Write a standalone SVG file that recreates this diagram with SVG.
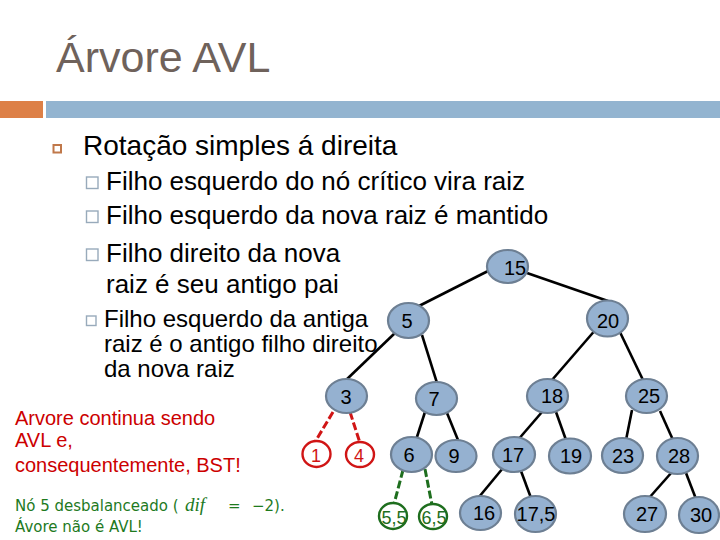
<svg xmlns="http://www.w3.org/2000/svg" width="720" height="540" viewBox="0 0 720 540">
<style>
.t{font-family:"Liberation Sans",Arial,sans-serif;fill:#000}
.title{font-family:"Liberation Sans",Arial,sans-serif;font-size:43px;fill:#6f625b}
.l1{font-size:28px}
.l2{font-size:26px}
.l3{font-size:24px}
.red{font-family:"Liberation Sans",Arial,sans-serif;font-size:20px;fill:#cc0000}
.grn{font-family:"DejaVu Sans",sans-serif;font-size:15px;fill:#1e7a1e}
.math{font-family:"Liberation Serif",serif;font-style:italic;font-size:19px}
.node ellipse{fill:#95b1d0;stroke:#6d7f93;stroke-width:2.2}
.node text{font-family:"Liberation Sans",Arial,sans-serif;font-size:20px;fill:#000;text-anchor:middle}
.rnode ellipse{fill:#fff;stroke:#d01515;stroke-width:2.4}
.rnode text{font-family:"Liberation Sans",Arial,sans-serif;font-size:18px;fill:#d01515;text-anchor:middle}
.gnode ellipse{fill:#fff;stroke:#1e6e1e;stroke-width:2.4}
.gnode text{font-family:"Liberation Sans",Arial,sans-serif;font-size:18px;fill:#1e6e1e;text-anchor:middle}
.e{stroke:#000;stroke-width:2.6;fill:none}
.er{stroke:#d01515;stroke-width:3;stroke-dasharray:8 3;fill:none}
.eg{stroke:#1e6e1e;stroke-width:3;stroke-dasharray:8 3;fill:none}
.b2{fill:none;stroke:#98aabb;stroke-width:1.4}
</style>
<rect width="720" height="540" fill="#fff"/>
<text class="title" x="56" y="72">Árvore AVL</text>
<rect x="0" y="101" width="43" height="17" fill="#dd8047"/>
<rect x="46" y="101" width="674" height="17" fill="#93b4d0"/>
<g id="bullets">
<rect x="53.5" y="145" width="7.5" height="7.5" fill="none" stroke="#c0784a" stroke-width="2"/>
<text class="t l1" x="83" y="155">Rotação simples á direita</text>
<rect class="b2" x="86.5" y="177" width="11.5" height="11.5"/>
<text class="t l2" x="106" y="190">Filho esquerdo do nó crítico vira raiz</text>
<rect class="b2" x="86.5" y="211" width="11.5" height="11.5"/>
<text class="t l2" x="106" y="224">Filho esquerdo da nova raiz é mantido</text>
<rect class="b2" x="86.5" y="249" width="11.5" height="11.5"/>
<text class="t l2" x="106" y="262">Filho direito da nova</text>
<text class="t l2" x="106" y="293">raiz é seu antigo pai</text>
<rect class="b2" x="86.5" y="316" width="9.5" height="9.5"/>
<text class="t l3" x="104" y="327">Filho esquerdo da antiga</text>
<text class="t l3" x="104" y="352">raiz é o antigo filho direito</text>
<text class="t l3" x="104" y="377">da nova raiz</text>
</g>
<g id="notes">
<text class="red" x="15" y="425">Arvore continua sendo</text>
<text class="red" x="15" y="447">AVL e,</text>
<text class="red" x="15" y="472">consequentemente, BST!</text>
<text class="grn" x="15" y="511">Nó 5 desbalanceado (<tspan class="math" x="185">dif</tspan><tspan x="228">=</tspan><tspan x="252">−2).</tspan></text>
<text class="grn" x="15" y="532">Ávore não é AVL!</text>
</g>
<g id="connectors">
<line class="e" x1="490" y1="270" x2="417" y2="307"/>
<line class="e" x1="527" y1="273" x2="608" y2="301"/>
<line class="e" x1="395" y1="333" x2="345" y2="381"/>
<line class="e" x1="422" y1="335" x2="437" y2="383"/>
<line class="e" x1="597" y1="328" x2="552" y2="380"/>
<line class="e" x1="618" y1="328" x2="643" y2="380"/>
<line class="er" x1="333" y1="412" x2="315" y2="442"/>
<line class="er" x1="350" y1="412" x2="360" y2="443"/>
<line class="e" x1="425" y1="412" x2="416" y2="440"/>
<line class="e" x1="447" y1="413" x2="458" y2="440"/>
<line class="eg" x1="403" y1="470" x2="394" y2="504"/>
<line class="eg" x1="425" y1="469" x2="432" y2="505"/>
<line class="e" x1="542" y1="412" x2="517" y2="441"/>
<line class="e" x1="556" y1="412" x2="566" y2="440"/>
<line class="e" x1="632" y1="410" x2="626" y2="440"/>
<line class="e" x1="660" y1="411" x2="673" y2="440"/>
<line class="e" x1="503" y1="468" x2="479" y2="497"/>
<line class="e" x1="521" y1="471" x2="531" y2="498"/>
<line class="e" x1="672" y1="472" x2="649" y2="498"/>
<line class="e" x1="686" y1="473" x2="696" y2="499"/>
</g>
<g id="n15" class="node"><ellipse cx="507.5" cy="266.5" rx="20.5" ry="16.5"/><text x="515" y="275">15</text></g>
<g id="n5" class="node"><ellipse cx="408.5" cy="320.5" rx="20.5" ry="17.5"/><text x="407" y="328">5</text></g>
<g id="n20" class="node"><ellipse cx="607.5" cy="318.5" rx="20.5" ry="18"/><text x="608" y="328">20</text></g>
<g id="n3" class="node"><ellipse cx="346.5" cy="396" rx="20.5" ry="17"/><text x="346" y="404">3</text></g>
<g id="n7" class="node"><ellipse cx="436.5" cy="398.5" rx="20.5" ry="16.5"/><text x="434" y="406">7</text></g>
<g id="n18" class="node"><ellipse cx="547.5" cy="396" rx="20.5" ry="17"/><text x="552" y="403">18</text></g>
<g id="n25" class="node"><ellipse cx="646.5" cy="396" rx="20.5" ry="17"/><text x="649" y="403">25</text></g>
<g id="n1" class="rnode"><ellipse cx="316.5" cy="454" rx="14" ry="13"/><text x="316" y="462">1</text></g>
<g id="n4" class="rnode"><ellipse cx="360" cy="454.5" rx="14" ry="12.5"/><text x="359" y="462">4</text></g>
<g id="n6" class="node"><ellipse cx="411.5" cy="454.5" rx="20.5" ry="17.5"/><text x="409" y="462">6</text></g>
<g id="n9" class="node"><ellipse cx="456" cy="456" rx="20.5" ry="16"/><text x="454" y="463">9</text></g>
<g id="n17" class="node"><ellipse cx="514" cy="454.5" rx="21" ry="17.5"/><text x="513" y="462">17</text></g>
<g id="n19" class="node"><ellipse cx="570" cy="456" rx="21" ry="17.5"/><text x="571" y="463">19</text></g>
<g id="n23" class="node"><ellipse cx="622.5" cy="455.5" rx="20.5" ry="17.5"/><text x="623" y="463">23</text></g>
<g id="n28" class="node"><ellipse cx="677.5" cy="456" rx="20.5" ry="18"/><text x="679" y="463">28</text></g>
<g id="n5_5" class="gnode"><ellipse cx="393" cy="516" rx="14" ry="13"/><text x="394" y="524">5,5</text></g>
<g id="n6_5" class="gnode"><ellipse cx="433" cy="516.5" rx="14" ry="12.5"/><text x="434" y="524">6,5</text></g>
<g id="n16" class="node"><ellipse cx="480.5" cy="513" rx="20.5" ry="17"/><text x="484" y="520">16</text></g>
<g id="n17_5" class="node"><ellipse cx="535.5" cy="514" rx="20.5" ry="18"/><text x="536" y="521">17,5</text></g>
<g id="n27" class="node"><ellipse cx="645" cy="514" rx="21" ry="18"/><text x="647" y="521">27</text></g>
<g id="n30" class="node"><ellipse cx="699" cy="515" rx="20" ry="18"/><text x="701" y="522">30</text></g>
</svg>
